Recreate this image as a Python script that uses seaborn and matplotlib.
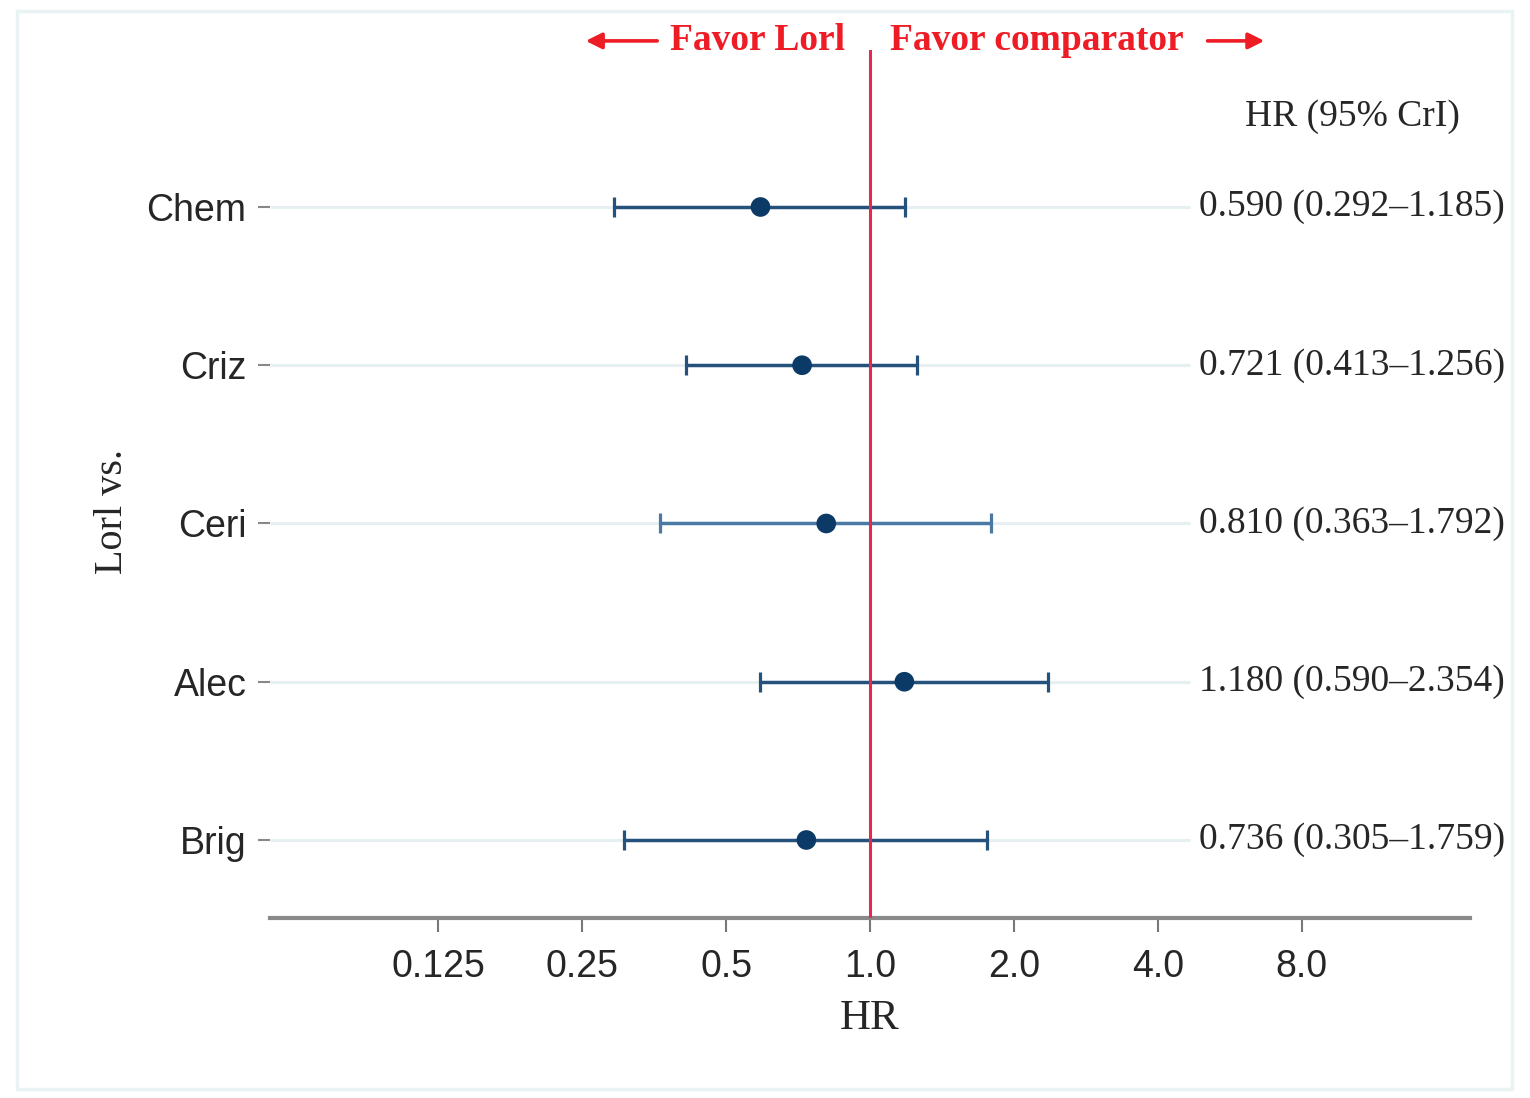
import numpy as np
import pandas as pd
import matplotlib.pyplot as plt
import matplotlib.patches as mpatches
import seaborn as sns

# comparators vs Lorl, top to bottom
comparators = ['Chem', 'Criz', 'Ceri', 'Alec', 'Brig']
hr = [0.590, 0.721, 0.810, 1.180, 0.736]
lower = [0.292, 0.413, 0.363, 0.590, 0.305]
upper = [1.185, 1.256, 1.792, 2.354, 1.759]
hr_labels = ['0.590 (0.292\u20131.185)', '0.721 (0.413\u20131.256)',
             '0.810 (0.363\u20131.792)', '1.180 (0.590\u20132.354)',
             '0.736 (0.305\u20131.759)']
xticks = [0.125, 0.25, 0.5, 1.0, 2.0, 4.0, 8.0]
xtick_labels = ['0.125', '0.25', '0.5', '1.0', '2.0', '4.0', '8.0']

df = pd.DataFrame({'comp': comparators, 'hr': hr, 'lo': lower, 'hi': upper,
                   'pos': np.arange(len(comparators))})

sns.set_style('white')
plt.rcParams['font.family'] = ['Liberation Sans', 'DejaVu Sans']
SERIF = ['Liberation Serif', 'DejaVu Serif']

fig = plt.figure(figsize=(15.3, 10.98), dpi=100)
# faint outer frame
fig.patches.append(mpatches.Rectangle((0.011, 0.008), 0.977, 0.982, transform=fig.transFigure,
                                      fill=False, edgecolor='#eaf3f3', linewidth=2.5))
ax = fig.add_axes([0.17647, 0.16393, 0.78431, 0.79053])
ax.set_xscale('log', base=2)
ax.set_xlim(2 ** -4.17, 2 ** 4.17)
ax.set_ylim(4.493, -0.992)

# light row guide lines
ax.hlines(df['pos'], 2 ** -4.17, 4.67, color='#e6f0f2', linewidth=2.2, zorder=1)

line_cols = ['#24527d', '#24527d', '#4a7aa3', '#24527d', '#24527d']
for i, row in df.iterrows():
    ax.errorbar(row['hr'], row['pos'],
                xerr=[[row['hr'] - row['lo']], [row['hi'] - row['hr']]],
                fmt='none', ecolor=line_cols[i], elinewidth=2.5, capsize=7.5,
                capthick=2.3, zorder=3)
sns.scatterplot(data=df, x='hr', y='pos', ax=ax, color='#0b3a66', s=200,
                edgecolor='none', zorder=4, legend=False)

ax.axvline(1.0, color='#e8274f', linewidth=2.2, zorder=5)

ax.set_xticks(xticks)
ax.set_xticklabels(xtick_labels)
ax.minorticks_off()
ax.set_yticks(df['pos'])
ax.set_yticklabels(comparators)
ax.tick_params(axis='x', which='major', direction='out', length=10, width=1.5,
               color='#777777', pad=12, labelsize=27, bottom=True)
ax.tick_params(axis='y', which='major', direction='out', length=9, width=1.5,
               color='#888888', pad=8, labelsize=27, left=True)

for s in ['top', 'right', 'left']:
    ax.spines[s].set_visible(False)
ax.spines['bottom'].set_color('#8a8a8a')
ax.spines['bottom'].set_linewidth(3)

ax.set_xlabel('HR', fontsize=31, family=SERIF)
ax.xaxis.set_label_coords(0.5, -0.094)
ax.set_ylabel('Lorl vs.', fontsize=29, family=SERIF)
ax.yaxis.set_label_coords(-0.116, 0.468)

# right-hand text column
tx = 0.9017
ax.text(tx, -0.569, 'HR (95% CrI)', transform=ax.get_yaxis_transform(),
        ha='center', va='center', fontsize=27, family=SERIF, clip_on=False)
for p, lab in zip(df['pos'], hr_labels):
    ax.text(tx, p, lab, transform=ax.get_yaxis_transform(), ha='center',
            va='center', fontsize=27, family=SERIF, clip_on=False)

# favour annotations above the plot
fy = 1.0105
ax.text(0.479, fy, 'Favor Lorl', transform=ax.transAxes, ha='right', va='center',
        fontsize=27, family=SERIF, fontweight='bold', color='#ee1c25')
ax.text(0.5167, fy, 'Favor comparator', transform=ax.transAxes, ha='left', va='center',
        fontsize=27, family=SERIF, fontweight='bold', color='#ee1c25')
arrow = dict(arrowstyle='-|>', color='#ee1c25', lw=2.6, mutation_scale=24)
ax.annotate('', xy=(0.2608, fy), xytext=(0.325, fy), xycoords='axes fraction',
            arrowprops=arrow, annotation_clip=False)
ax.annotate('', xy=(0.831, fy), xytext=(0.779, fy), xycoords='axes fraction',
            arrowprops=arrow, annotation_clip=False)

fig.savefig('out.png', dpi=100)
